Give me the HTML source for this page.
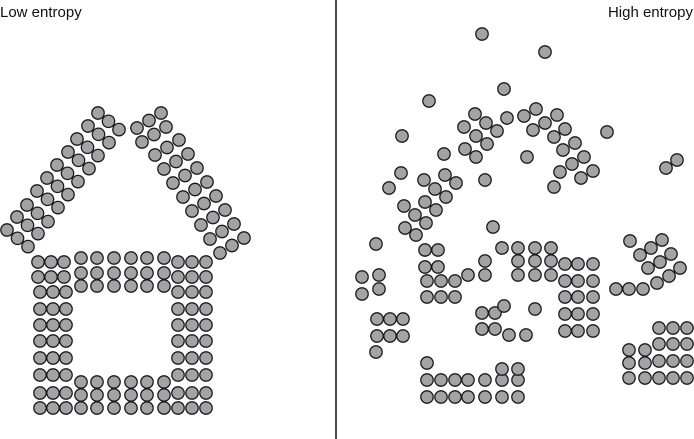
<!DOCTYPE html>
<html><head><meta charset="utf-8"><style>
html,body{margin:0;padding:0;background:#fff;}
svg{display:block;}
text{font-family:"Liberation Sans",sans-serif;font-size:15px;fill:#111;}
</style></head><body>
<svg id="chart" width="694" height="439" viewBox="0 0 694 439">
<text x="0" y="17">Low entropy</text>
<text x="693" y="17" text-anchor="end">High entropy</text>
<line x1="336" y1="0" x2="336" y2="439" stroke="#111" stroke-width="1.5"/>
</svg>
<script>
// Low entropy: house structure
const roofLeftGroups = [[98,113],[88,126],[77,139],[68,152],[57,165],[47,178],[37,191],[27,205],[17,217],[7,230]];
const roofRightGroups = [[137,128],[142,142],[155,155],[164,169],[173,183],[183,197],[192,211],[201,225],[210,239],[220,253]];
const wallSideCols = [38,51,64];
const wallRightCols = [178,192,206];
const wallRowsTop = [262,277];
const wallRows = [292,309,325,341,358,375,393,408];
const beamCols = [81,97,114,131,147,164];
const beamTopRows = [258,273,286];
const beamBottomRows = [382,395,408];
// High entropy: scattered particles
const scatterX = [482,545,504,429,475,486,497,464,476,487,465,476,507,524,536,557,545,533,565,554,575,563,584,572,560,593,581,554,527,607,402,444,401,445,456,424,435,446,425,436,389,404,415,426,405,416,485,493,666,677,
376,425,438,425,438,427,441,455,427,441,455,468,485,485,362,379,362,379,502,518,535,551,518,535,551,518,535,551,565,578,593,565,578,593,565,578,593,565,578,593,565,578,593,
377,390,403,377,390,403,376,482,495,504,482,495,509,526,535,427,427,441,455,468,485,502,518,427,441,455,468,485,502,518,502,518,
630,640,651,662,660,671,648,669,680,657,616,629,643,629,645,629,645,629,645,659,673,687,659,673,687,659,673,687,659,673,687];
const scatterY = [34,52,89,101,114,123,131,127,136,144,149,157,118,116,109,115,123,130,129,137,143,150,157,164,172,171,178,187,157,132,136,154,173,175,183,180,189,197,202,210,188,206,215,223,228,235,180,227,168,160,
244,250,250,267,267,281,281,281,297,297,297,275,261,275,277,275,294,289,248,248,248,248,261,261,261,275,275,275,264,264,264,281,281,281,297,297,297,314,314,314,331,331,331,
319,319,319,336,336,336,352,313,313,306,329,329,335,335,309,363,380,380,380,380,380,380,380,397,397,397,397,397,397,397,369,369,
241,255,248,240,262,254,268,276,268,283,289,289,289,350,350,363,363,378,378,328,328,328,344,344,344,361,361,361,378,378,378];

const svg = document.getElementById('chart');
const NS = 'http://www.w3.org/2000/svg';
function dot(x, y, name) {
  const c = document.createElementNS(NS, 'circle');
  c.setAttribute('cx', x);
  c.setAttribute('cy', y);
  c.setAttribute('r', 6.2);
  c.setAttribute('fill', '#a3a3a6');
  c.setAttribute('stroke', '#1a1a1a');
  c.setAttribute('stroke-width', 1.3);
  
  
  svg.appendChild(c);
}
roofLeftGroups.forEach(g => { for (let i = 0; i < 3; i++) dot(g[0] + i * 10.5, g[1] + i * 8.3, 'roof-left-particle'); });
roofRightGroups.forEach(g => { for (let i = 0; i < 3; i++) dot(g[0] + i * 12, g[1] - i * 7.5, 'roof-right-particle'); });
wallRowsTop.forEach(y => { wallSideCols.forEach(x => dot(x, y, 'wall-left-particle')); wallRightCols.forEach(x => dot(x, y, 'wall-right-particle')); });
wallRows.forEach(y => { wallSideCols.forEach(x => dot(x + 2, y, 'wall-left-particle')); wallRightCols.forEach(x => dot(x, y, 'wall-right-particle')); });
beamTopRows.forEach(y => beamCols.forEach(x => dot(x, y, 'beam-top-particle')));
beamBottomRows.forEach(y => beamCols.forEach(x => dot(x, y, 'floor-particle')));
for (let i = 0; i < scatterX.length; i++) dot(scatterX[i], scatterY[i], 'scattered-particle');
</script>
</body></html>
